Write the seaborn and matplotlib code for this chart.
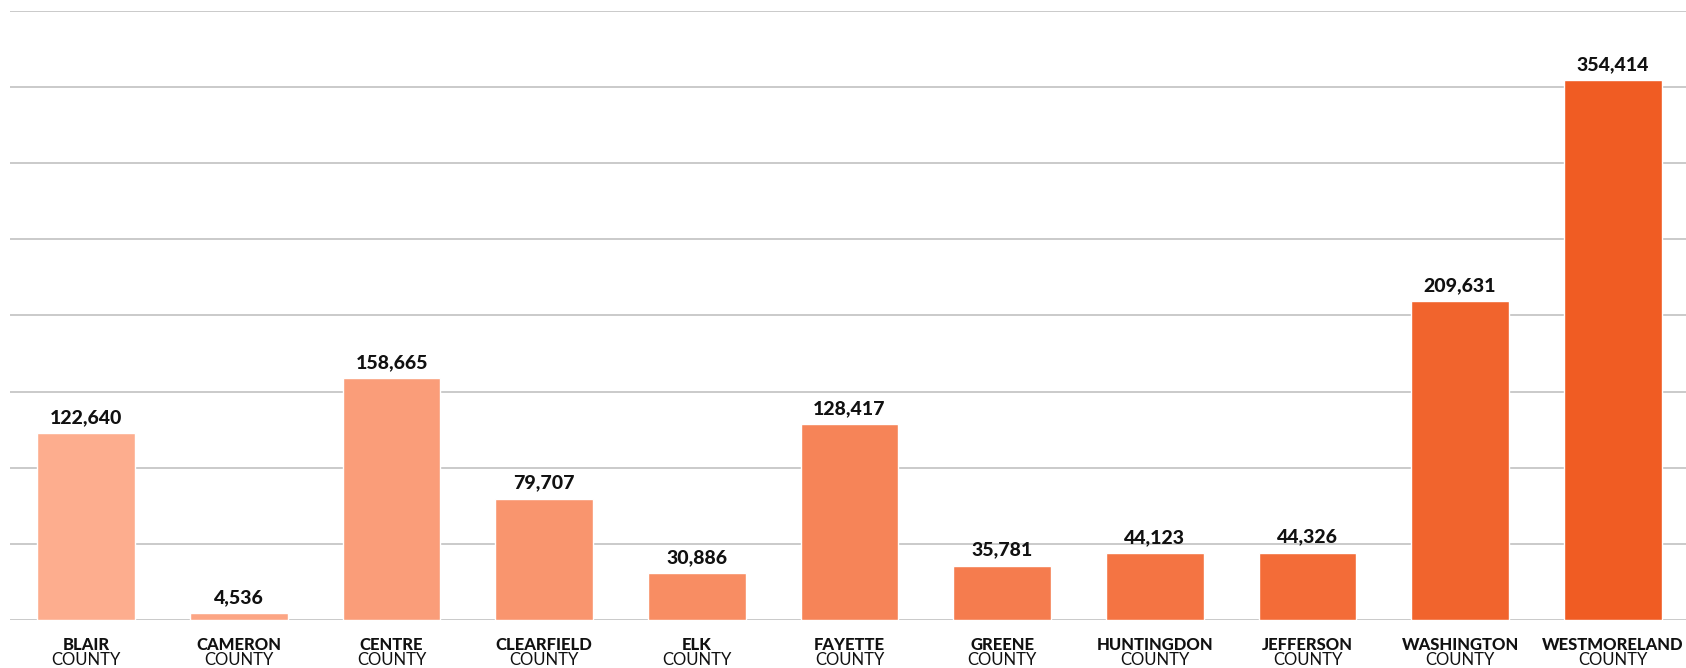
import numpy as np
import pandas as pd
import matplotlib
matplotlib.use('Agg')
import matplotlib.pyplot as plt
import seaborn as sns

# --- data ---
counties = ['BLAIR', 'CAMERON', 'CENTRE', 'CLEARFIELD', 'ELK', 'FAYETTE',
            'GREENE', 'HUNTINGDON', 'JEFFERSON', 'WASHINGTON', 'WESTMORELAND']
population = [122640, 4536, 158665, 79707, 30886, 128417,
              35781, 44123, 44326, 209631, 354414]
suffix = 'COUNTY'

df = pd.DataFrame({'county': counties, 'population': population})

sns.set_theme(style='white')
plt.rcParams['font.family'] = ['Lato', 'DejaVu Sans']

# light salmon -> strong orange, one shade per bar
palette = sns.blend_palette(['#FDAD8E', '#F05C23'], n_colors=len(counties))

W, H = 1686, 668
fig = plt.figure(figsize=(W / 100, H / 100), dpi=100)
# plot area: baseline at y=620px, top gridline at y=11px
ax = fig.add_axes([10 / W, (H - 620) / H, (W - 10) / W, (620 - 11) / H])

sns.barplot(data=df, x='county', y='population', hue='county', palette=palette,
            legend=False, width=0.64, saturation=1, ax=ax, zorder=3)

ax.set_ylim(0, 400000)
ax.set_xlim(-0.5, 10.48)
ax.set_yticks(np.arange(0, 400001, 50000))
ax.yaxis.grid(True, color='#c6c6c6', linewidth=1.3, zorder=0)
ax.set_axisbelow(True)
ax.set_yticklabels([])
ax.tick_params(left=False, bottom=False)
ax.set_xticks([])
ax.set_xlabel('')
ax.set_ylabel('')
for s in ax.spines.values():
    s.set_visible(False)

# value labels above the bars
for i, v in enumerate(population):
    ax.annotate(f'{v:,}', (i, v), xytext=(0, 10), textcoords='offset pixels',
                ha='center', va='baseline', fontsize=14, fontweight='black',
                color='#111111')

# two-line category labels under the baseline
for i, name in enumerate(counties):
    ax.annotate(name, (i, 0), xytext=(0, -30), textcoords='offset pixels',
                ha='center', va='baseline', fontsize=12, fontweight='black',
                color='#111111', annotation_clip=False)
    ax.annotate(suffix, (i, 0), xytext=(0, -45), textcoords='offset pixels',
                ha='center', va='baseline', fontsize=12, color='#111111',
                annotation_clip=False)

fig.savefig('out.png', dpi=100)
